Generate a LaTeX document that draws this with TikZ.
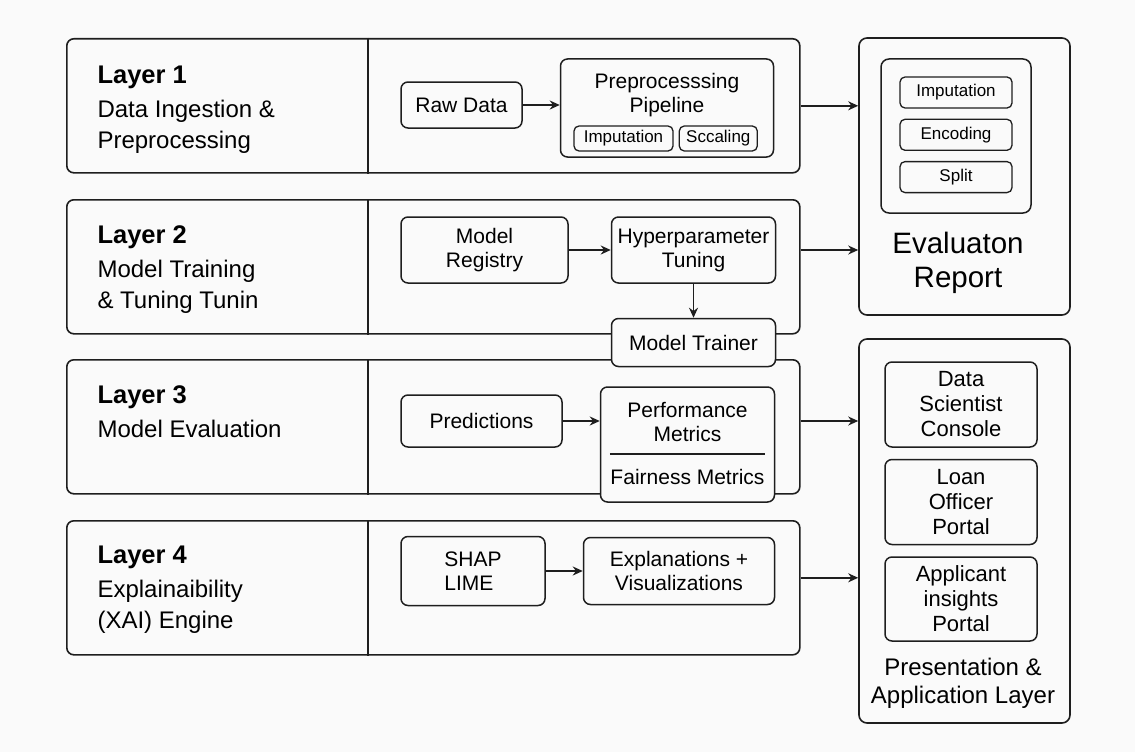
\documentclass[tikz,border=0pt]{standalone}
\usepackage{fontspec}
\setmainfont{Liberation Sans}
\usepackage{tikz}
\usetikzlibrary{positioning,arrows.meta,calc}

\definecolor{bgpaper}{RGB}{250,250,250}
\definecolor{ink}{RGB}{30,30,30}

\newcommand{\fLayer}{\fontsize{25.5}{30}\selectfont\bfseries}
\newcommand{\fDesc}{\fontsize{24}{31}\selectfont}
\newcommand{\fBox}{\fontsize{21}{24}\selectfont}
\newcommand{\fSub}{\fontsize{17}{20}\selectfont}
\newcommand{\fEval}{\fontsize{29.5}{34}\selectfont}
\newcommand{\fPanel}{\fontsize{24}{28}\selectfont}
\newcommand{\fSide}{\fontsize{22}{25}\selectfont}

\begin{document}
\begin{tikzpicture}[
        x=1pt, y=-1pt,
        layerbox/.style = {draw=ink, line width=1.6pt, rounded corners=7pt, minimum width=733pt, minimum height=134pt, inner sep=0pt, anchor=north west},
        blk/.style      = {draw=ink, line width=1.5pt, rounded corners=7pt, fill=bgpaper, align=center, inner sep=0pt, font=\fBox},
        chip/.style     = {draw=ink, line width=1.3pt, rounded corners=5pt, fill=bgpaper, inner sep=0pt, font=\fSub},
        ttl/.style      = {anchor=base west, font=\fLayer},
        dsc/.style      = {anchor=base west, align=left, font=\fDesc},
        panel/.style    = {draw=ink, line width=1.6pt, rounded corners=8pt, inner sep=0pt},
        flow/.style     = {->, >={Stealth[length=10pt, width=9pt]}, line width=1.6pt, draw=ink},
        node distance = 37pt
    ]
        \fill[bgpaper] (0,0) rectangle (1135,752);
        \useasboundingbox (0,0) rectangle (1135,752);

        % layer frames
        \node[layerbox] (l1) at (66,38)  {};
        \node[layerbox] (l2) at (66,199) {};
        \node[layerbox] (l3) at (66,359) {};
        \node[layerbox] (l4) at (66,520) {};
        \foreach \l in {l1,l2,l3,l4}
            \draw[line width=1.4pt, ink] ($(\l.north west)+(302,0)$) -- ($(\l.south west)+(302,0)$);

        % base anchor sits on the last line
        \node[ttl] (t1) at (94,83)  {Layer 1};
        \node[dsc] (d1) at (94,148) {Data Ingestion \&\\Preprocessing};
        \node[ttl] (t2) at (94,243) {Layer 2};
        \node[dsc] (d2) at (94,308) {Model Training\\\& Tuning Tunin};
        \node[ttl] (t3) at (94,403) {Layer 3};
        \node[dsc] (d3) at (94,437) {Model Evaluation};
        \node[ttl] (t4) at (94,563) {Layer 4};
        \node[dsc] (d4) at (94,628) {Explainaibility\\(XAI) Engine};

        % layer 1
        \node[blk, minimum width=121pt, minimum height=46pt] (raw) at (461.5,105) {Raw Data};
        \node[blk, minimum width=213pt, minimum height=98pt, right=37pt of raw, yshift=-3pt] (pipe) {};
        \node[font=\fBox, align=center] (pipetxt) at ($(pipe.north)+(0,37)$) {Preprocesssing\\Pipeline};
        \node[chip, minimum width=99pt, minimum height=25pt] (imp) at (623.5,138.5) {Imputation};
        \node[chip, minimum width=78pt, minimum height=25pt, right=5pt of imp] (scl) {Sccaling};
        \draw[flow] (raw) -- (raw -| pipe.west);

        % layer 2
        \node[blk, minimum width=167pt, minimum height=66pt] (reg) at (484.5,250) {Model\\Registry};
        \node[blk, minimum width=164pt, minimum height=66pt, right=42pt of reg] (hyp) {Hyperparameter\\Tuning};
        \node[blk, minimum width=164pt, minimum height=48pt, below=34pt of hyp] (trn) {Model Trainer};
        \draw[flow] (reg) -- (hyp);
        \draw[flow] (hyp) -- (trn);

        % layer 3
        \node[blk, minimum width=161pt, minimum height=52pt] (pred) at (481.5,421) {Predictions};
        \node[blk, minimum width=174pt, minimum height=115pt, right=37pt of pred, yshift=-23.5pt] (met) {};
        \node[font=\fBox, align=center] (perf) at ($(met.north)+(0,36)$) {Performance\\Metrics};
        \draw[line width=1.2pt, ink] ($(met.west)+(10,9.5)$) -- ($(met.east)+(-10,9.5)$);
        \node[font=\fBox] (fair) at ($(met.south)+(0,-26)$) {Fairness Metrics};
        \draw[flow] (pred) -- (pred -| met.west);

        % layer 4
        \node[blk, align=left, minimum width=144pt, minimum height=69pt] (shap) at (473,571) {SHAP\\LIME};
        \node[blk, minimum width=191pt, minimum height=67pt, right=37pt of shap] (expl) {Explanations +\\Visualizations};
        \draw[flow] (shap) -- (shap -| expl.west);

        % evaluation report
        \node[panel, minimum width=211pt, minimum height=277pt] (eval) at (964.5,176.5) {};
        \node[panel, line width=1.5pt, minimum width=150pt, minimum height=154pt] (steps) at (956,136) {};
        \node[chip, minimum width=112pt, minimum height=31pt] (eimp) at (956,92.5) {Imputation};
        \node[chip, minimum width=112pt, minimum height=31pt, below=10pt of eimp] (eenc) {Encoding};
        \node[chip, minimum width=112pt, minimum height=31pt, below=10pt of eenc] (espl) {Split};
        \node[font=\fEval, align=center] (evaltxt) at (958,263) {Evaluaton\\Report};

        % presentation layer
        \node[panel, minimum width=211pt, minimum height=384pt] (pres) at (964.5,531) {};
        \node[blk, font=\fSide, minimum width=152pt, minimum height=85pt] (dsci) at (961,404.5) {Data\\Scientist\\Console};
        \node[blk, font=\fSide, minimum width=152pt, minimum height=85pt, below=11pt of dsci] (loan) {Loan\\Officer\\Portal};
        \node[blk, font=\fSide, minimum width=152pt, minimum height=84pt, below=11pt of loan] (appl) {Applicant\\insights\\Portal};
        \node[font=\fPanel, align=center] (prestxt) at (963,683) {Presentation \&\\Application Layer};

        % outputs
        \coordinate (l4out) at ($(l4.east)+(0,-10)$);
        \draw[flow] (l1.east) -- (l1.east -| eval.west);
        \draw[flow] (l2.east |- hyp) -- (hyp -| eval.west);
        \draw[flow] (l3.east |- pred) -- (pred -| pres.west);
        \draw[flow] (l4out) -- (l4out -| pres.west);
    \end{tikzpicture}
\end{document}
